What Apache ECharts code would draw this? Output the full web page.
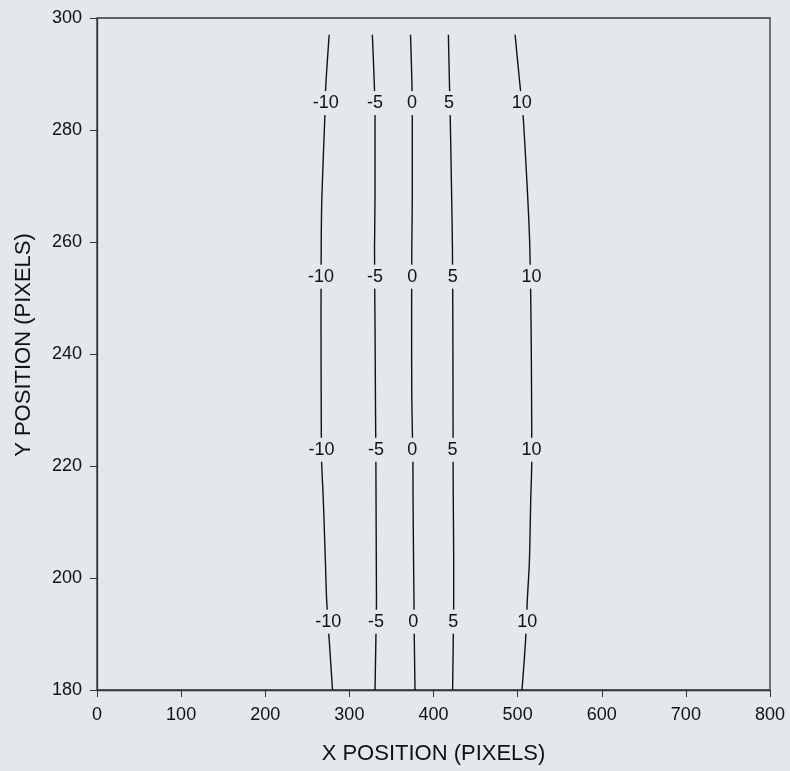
<!DOCTYPE html>
<html>
<head>
<meta charset="utf-8">
<script src="https://cdn.jsdelivr.net/npm/echarts@6/dist/echarts.min.js"></script>
<style>
html,body{margin:0;padding:0;background:#e4e8eb;}
#chart{width:790px;height:771px;}
</style>
</head>
<body>
<div id="chart"></div>
<script>
// Contour levels
var levels = [-10, -5, 0, 5, 10];
// Y positions where contour x-positions were read
var contourY = [297, 288, 283, 268, 259, 245, 232, 221, 214, 203, 196, 189, 180];
// X positions of each contour at contourY
var xNeg10 = [276, 272, 271, 267.3, 266.5, 266.3, 266.5, 267, 269, 271.5, 273, 276, 280];
var xNeg5  = [327.3, 329.7, 330.5, 330.5, 329.9, 330.5, 331, 331.5, 331.7, 332, 332.2, 331.5, 330.5];
var xZero  = [372.7, 374.4, 374.8, 374.8, 374.2, 374, 374.2, 375.5, 375.7, 376.3, 376.8, 377.2, 378];
var xPos5  = [417.7, 419, 419.8, 421.6, 422.5, 423, 423.2, 423.3, 423.5, 424, 424, 423.5, 422.7];
var xPos10 = [497, 502.8, 506.3, 512, 514.5, 516, 516.6, 516.8, 515.6, 514, 511.5, 509.5, 505.2];
var contourX = [xNeg10, xNeg5, xZero, xPos5, xPos10];
// Label rows (y) and label x-positions per level
var labelY = [284.8, 253.8, 222.9, 192.2];
var labelXNeg10 = [272, 266.3, 267, 275];
var labelXNeg5  = [330.5, 330.5, 331.6, 331.6];
var labelXZero  = [374.5, 374.8, 374.8, 376];
var labelXPos5  = [418.5, 423, 422.7, 423.6];
var labelXPos10 = [505, 516.6, 516.6, 511.5];
var labelX = [labelXNeg10, labelXNeg5, labelXZero, labelXPos5, labelXPos10];
var xTicks = [0, 800, 100];
var yTicks = [180, 300, 20];

var bg = '#e4e8eb';
var font = '"Liberation Sans", Arial, sans-serif';
var series = [];
levels.forEach(function (lv, i) {
  series.push({
    type: 'line',
    smooth: 0.3,
    symbol: 'none',
    lineStyle: { color: '#111', width: 1.4 },
    data: contourY.map(function (y, j) { return [contourX[i][j], y]; }),
    z: 2,
    silent: true
  });
});
var labelData = [];
levels.forEach(function (lv, i) {
  labelY.forEach(function (y, r) {
    labelData.push([labelX[i][r], y, lv]);
  });
});
series.push({
  type: 'scatter',
  symbolSize: 0,
  data: labelData,
  z: 5,
  silent: true,
  itemStyle: { opacity: 1, color: bg },
  label: {
    show: true,
    position: 'inside',
    formatter: function (p) { return String(p.value[2]); },
    fontFamily: font,
    fontSize: 18,
    color: '#111',
    opacity: 1,
    backgroundColor: bg,
    padding: [3, 1, 3, 1]
  }
});

var chart = echarts.init(document.getElementById('chart'));
chart.setOption({
  backgroundColor: bg,
  animation: false,
  grid: { left: 97, right: 20, top: 18, bottom: 81, show: true, borderColor: '#333', borderWidth: 1.3, backgroundColor: 'transparent' },
  xAxis: {
    type: 'value', min: xTicks[0], max: xTicks[1], interval: xTicks[2],
    name: 'X POSITION (PIXELS)', nameLocation: 'middle', nameGap: 53,
    nameTextStyle: { fontFamily: font, fontSize: 22, color: '#111' },
    axisLine: { show: true, lineStyle: { color: '#333', width: 1.3 } },
    axisTick: { show: true, length: 7, inside: false, lineStyle: { color: '#333' } },
    axisLabel: { fontFamily: font, fontSize: 18, color: '#111', margin: 16 },
    splitLine: { show: false }
  },
  yAxis: {
    type: 'value', min: yTicks[0], max: yTicks[1], interval: yTicks[2],
    name: 'Y POSITION (PIXELS)', nameLocation: 'middle', nameGap: 62,
    nameTextStyle: { fontFamily: font, fontSize: 22, color: '#111', padding: [0, 0, 0, 18] },
    axisLine: { show: true, lineStyle: { color: '#333', width: 1.3 } },
    axisTick: { show: true, length: 7, inside: false, lineStyle: { color: '#333' } },
    axisLabel: { fontFamily: font, fontSize: 18, color: '#111', margin: 15 },
    splitLine: { show: false }
  },
  series: series
});
</script>
</body>
</html>
